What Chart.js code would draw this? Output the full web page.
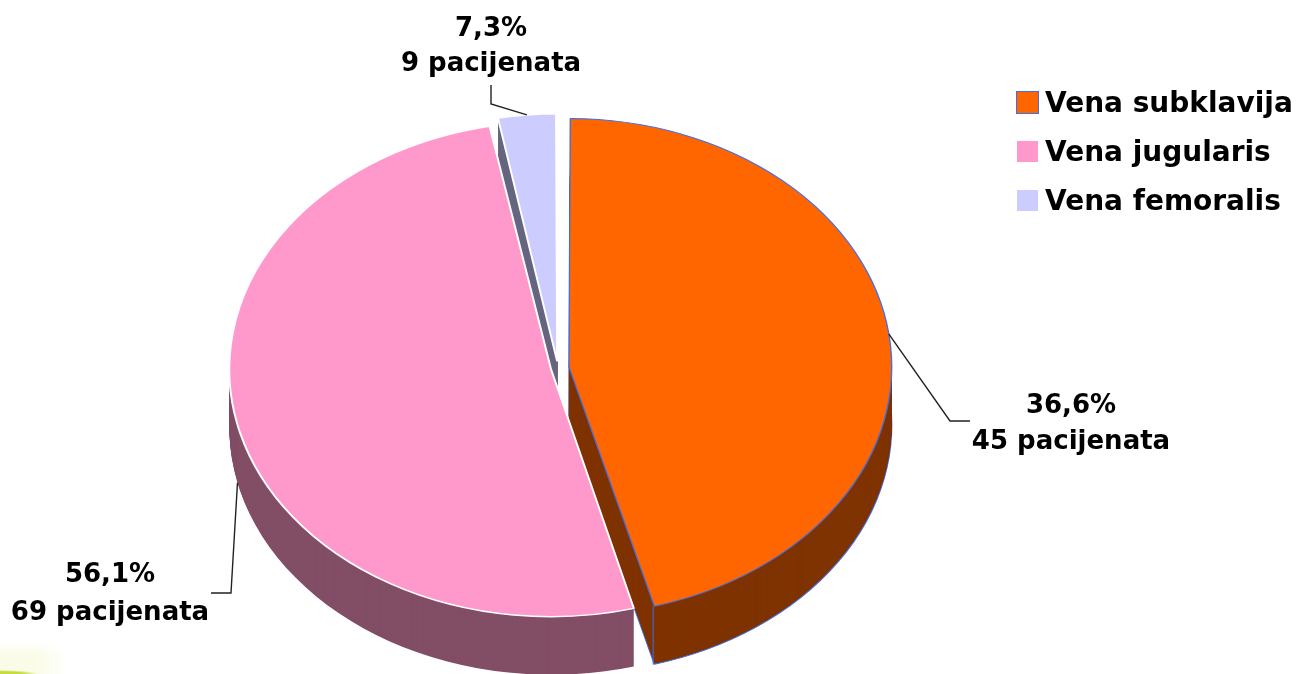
<!DOCTYPE html>
<html>
<head>
<meta charset="utf-8">
<title>Vene</title>
<script src="https://cdn.jsdelivr.net/npm/chart.js@4/dist/chart.umd.min.js"></script>
<style>
  html, body { margin: 0; padding: 0; background: #fff; overflow: hidden; }
  #fondo { position: absolute; left: 0; top: 642px; width: 68px; height: 32px;
    background: radial-gradient(ellipse 38px 4px at 0 100%, #c5dc3c 60%, transparent),
      linear-gradient(to bottom, transparent, #fbfce8 40%, #fbfce8);
    -webkit-mask-image: linear-gradient(to right, #000 55%, transparent); }
  #grafico { position: absolute; left: 0; top: 0; }
</style>
</head>
<body>
<div id="fondo"></div>
<canvas id="grafico" width="1300" height="674"></canvas>
<script>
const vene = ["Vena subklavija", "Vena jugularis", "Vena femoralis"];
// share of the circle each slice really takes in the picture (%)
const udioKruga = [45.8, 51.2, 3.0];
const procenti = ["36,6%", "56,1%", "7,3%"];
const pacijenti = ["45 pacijenata", "69 pacijenata", "9 pacijenata"];

const boje = ["#FF6600", "#FF99CC", "#CCCCFF"];
const bojeZida = ["#7F3300", "#824E66", "#666680"];
const ivice = ["#3F6FE8", "#FFFFFF", "#FFFFFF"];
const debljineIvica = [1, 1.5, 1.5];
const pomaci = [34, 22, 27];

const sx = 1.3;       // ellipse: x stretch of the circle
const dubina = 58;    // height of the pie wall
const fontTekst = "bold 26px 'DejaVu Sans', sans-serif";
const fontLegenda = "bold 28px 'DejaVu Sans', sans-serif";

// where label text and leader lines sit
const natpisi = [
  { x: 1071, y1: 406, y2: 442, lom: [[950, 421], [970, 421]], zid: 0 },
  { x: 110, y1: 575, y2: 613, lom: [[231, 593], [211, 593]], zid: dubina },
  { x: 491, y1: 29, y2: 64, lom: [[491, 104], [491, 85]], zid: 0 }
];

function crtajSa(el, ctx, izmene) {  // draw an arc with other colours, then put them back
  const stare = el.options;
  el.options = Object.assign({}, stare, izmene);
  el.draw(ctx);
  el.options = stare;
}

// radius of the drawn arc, chart.js grows it a bit with the offset
function radijus(el, i) {
  return el.outerRadius + pomaci[i] / 4 * (1 - Math.sin(Math.min(Math.PI, el.circumference)));
}

const pita3d = {
  id: "pita3d",
  beforeDatasetsDraw(chart) {
    const ctx = chart.ctx;
    const arcs = chart.getDatasetMeta(0).data;
    ctx.save();
    ctx.translate(arcs[0].x, arcs[0].y);
    ctx.scale(sx, 1);
    ctx.translate(-arcs[0].x, -arcs[0].y);

    // walls, back slice first
    [2, 0, 1].forEach(i => {
      const el = arcs[i];
      for (let d = dubina; d > 0; d--) {
        ctx.save();
        ctx.translate(0, d);
        const ivica = (d === dubina && i === 0);
        crtajSa(el, ctx, {
          backgroundColor: bojeZida[i],
          borderColor: ivica ? ivice[0] : bojeZida[i],
          borderWidth: ivica ? 1 : 0
        });
        ctx.restore();
      }
    });
  },
  afterDatasetsDraw(chart) {
    const ctx = chart.ctx;
    ctx.restore();
    const arcs = chart.getDatasetMeta(0).data;

    // blue corner of the orange slice
    const o = arcs[0];
    const t = pomaci[0] / 4;
    const r = radijus(o, 0);
    const pol = (o.startAngle + o.endAngle) / 2;
    const ex = o.x + sx * (Math.cos(pol) * t + Math.cos(o.endAngle) * r);
    const ey = o.y + Math.sin(pol) * t + Math.sin(o.endAngle) * r;
    ctx.strokeStyle = ivice[0];
    ctx.lineWidth = 1;
    ctx.beginPath();
    ctx.moveTo(ex, ey);
    ctx.lineTo(ex, ey + dubina);
    ctx.stroke();

    // leader lines and labels
    ctx.fillStyle = "#000";
    ctx.font = fontTekst;
    ctx.textAlign = "center";
    ctx.textBaseline = "middle";
    natpisi.forEach((n, i) => {
      const el = arcs[i];
      const ugao = (el.startAngle + el.endAngle) / 2;
      const rr = radijus(el, i) + pomaci[i] / 4;
      ctx.strokeStyle = "#222";
      ctx.lineWidth = 1.4;
      ctx.beginPath();
      ctx.moveTo(el.x + sx * rr * Math.cos(ugao), el.y + rr * Math.sin(ugao) + n.zid);
      n.lom.forEach(p => ctx.lineTo(p[0], p[1]));
      ctx.stroke();
      ctx.fillText(procenti[i], n.x, n.y1);
      ctx.fillText(pacijenti[i], n.x, n.y2);
    });

    // legend
    ctx.textAlign = "left";
    ctx.font = fontLegenda;
    ctx.lineWidth = 1;
    vene.forEach((v, i) => {
      const y = 103 + i * 49;
      ctx.fillStyle = boje[i];
      ctx.fillRect(1017, y - 11, 21, 21);
      if (i === 0) {
        ctx.strokeStyle = ivice[0];
        ctx.strokeRect(1016.5, y - 11.5, 22, 22);
      }
      ctx.fillStyle = "#000";
      ctx.fillText(v, 1045, y + 2);
    });
  }
};

new Chart(document.getElementById("grafico").getContext("2d"), {
  type: "pie",
  data: {
    labels: vene,
    datasets: [{
      data: udioKruga,
      backgroundColor: boje,
      borderColor: ivice,
      borderWidth: debljineIvica,
      offset: pomaci,
      radius: 242,
      clip: false
    }]
  },
  options: {
    responsive: false,
    animation: false,
    layout: { padding: { left: 0, right: 184, top: 62, bottom: 0 } },
    events: [],
    plugins: {
      legend: { display: false },
      tooltip: { enabled: false }
    }
  },
  plugins: [pita3d]
});
</script>
</body>
</html>
